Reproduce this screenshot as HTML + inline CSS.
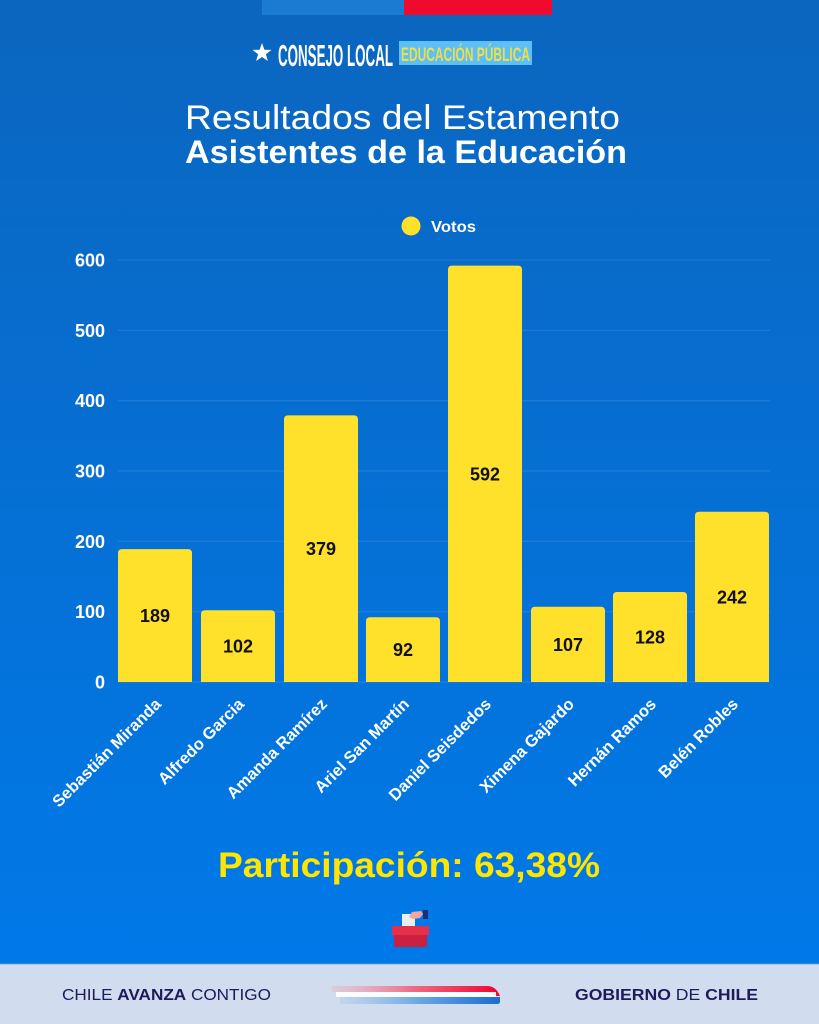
<!DOCTYPE html>
<html><head><meta charset="utf-8"><style>
html,body{margin:0;padding:0;width:819px;height:1024px;overflow:hidden;background:#0a6cc8}
svg{display:block}
text{font-family:"Liberation Sans",sans-serif}
</style></head><body>
<svg width="819" height="1024" viewBox="0 0 819 1024" xmlns="http://www.w3.org/2000/svg">
<defs>
<linearGradient id="bg" x1="0" y1="0" x2="0" y2="964" gradientUnits="userSpaceOnUse">
<stop offset="0" stop-color="#0B66BF"/><stop offset="1" stop-color="#0079E8"/>
</linearGradient>
<linearGradient id="rs" x1="332" y1="0" x2="495" y2="0" gradientUnits="userSpaceOnUse">
<stop offset="0" stop-color="#f3a5b5" stop-opacity="0.3"/><stop offset="0.5" stop-color="#ee6a84"/><stop offset="1" stop-color="#ef0a33"/>
</linearGradient>
<linearGradient id="bs" x1="340" y1="0" x2="499" y2="0" gradientUnits="userSpaceOnUse">
<stop offset="0" stop-color="#9cc3ec" stop-opacity="0.3"/><stop offset="0.5" stop-color="#6aa6e4"/><stop offset="1" stop-color="#1a6fd0"/>
</linearGradient>
</defs>
<rect x="0" y="0" width="819" height="1024" fill="url(#bg)"/>
<!-- top flag bars -->
<rect x="262" y="0" width="142" height="15" fill="#1a7bd1"/>
<rect x="404" y="0" width="148" height="15" fill="#ef0a2e"/>
<!-- header logo -->
<polygon points="262,43 264.4,49.7 271.5,49.9 265.9,54.2 267.9,61 262,57 256.1,61 258.1,54.2 252.5,49.9 259.6,49.7" fill="#fff"/>
<text x="278" y="66" font-size="31" font-weight="bold" fill="#fff" textLength="115" lengthAdjust="spacingAndGlyphs">CONSEJO LOCAL</text>
<rect x="399" y="41" width="133" height="24" fill="#5cbff6"/>
<text x="401" y="61" font-size="19" font-weight="bold" fill="#f0df45" textLength="129" lengthAdjust="spacingAndGlyphs">EDUCACIÓN PÚBLICA</text>
<!-- titles -->
<text x="185" y="129" font-size="34" fill="#fff" textLength="435" lengthAdjust="spacingAndGlyphs">Resultados del Estamento</text>
<text x="185" y="163" font-size="32" font-weight="bold" fill="#fff" textLength="442" lengthAdjust="spacingAndGlyphs">Asistentes de la Educación</text>
<!-- legend -->
<circle cx="411" cy="226" r="9.5" fill="#FFE12B"/>
<text x="431" y="232" font-size="16" font-weight="bold" fill="#fff" textLength="45" lengthAdjust="spacingAndGlyphs">Votos</text>
<!-- gridlines -->
<g stroke="#ffffff" stroke-opacity="0.12" stroke-width="1">
<line x1="118" y1="260" x2="770" y2="260"/>
<line x1="118" y1="330.3" x2="770" y2="330.3"/>
<line x1="118" y1="400.7" x2="770" y2="400.7"/>
<line x1="118" y1="471" x2="770" y2="471"/>
<line x1="118" y1="541.3" x2="770" y2="541.3"/>
<line x1="118" y1="611.7" x2="770" y2="611.7"/>
<line x1="118" y1="682" x2="770" y2="682"/>
</g>
<!-- y tick labels -->
<g font-size="18" font-weight="bold" fill="#fff" text-anchor="end">
<text x="105" y="266.5">600</text>
<text x="105" y="336.8">500</text>
<text x="105" y="407.2">400</text>
<text x="105" y="477.5">300</text>
<text x="105" y="547.8">200</text>
<text x="105" y="618.2">100</text>
<text x="105" y="688.5">0</text>
</g>
<!-- bars -->
<g fill="#FFE12B">
<path d="M118,682 V553.1 Q118,549.1 122,549.1 H188 Q192,549.1 192,553.1 V682 Z"/>
<path d="M201,682 V614.3 Q201,610.3 205,610.3 H271 Q275,610.3 275,614.3 V682 Z"/>
<path d="M284,682 V419.4 Q284,415.4 288,415.4 H354 Q358,415.4 358,419.4 V682 Z"/>
<path d="M366,682 V621.3 Q366,617.3 370,617.3 H436 Q440,617.3 440,621.3 V682 Z"/>
<path d="M448,682 V269.6 Q448,265.6 452,265.6 H518 Q522,265.6 522,269.6 V682 Z"/>
<path d="M531,682 V610.7 Q531,606.7 535,606.7 H601 Q605,606.7 605,610.7 V682 Z"/>
<path d="M613,682 V596 Q613,592 617,592 H683 Q687,592 687,596 V682 Z"/>
<path d="M695,682 V515.8 Q695,511.8 699,511.8 H765 Q769,511.8 769,515.8 V682 Z"/>
</g>
<!-- value labels -->
<g font-size="18" font-weight="bold" fill="#111" text-anchor="middle">
<text x="155" y="622">189</text>
<text x="238" y="652.5">102</text>
<text x="321" y="555.2">379</text>
<text x="403" y="656.1">92</text>
<text x="485" y="480.3">592</text>
<text x="568" y="650.8">107</text>
<text x="650" y="643.5">128</text>
<text x="732" y="603.4">242</text>
</g>
<!-- x labels -->
<g font-size="16.5" font-weight="bold" fill="#fff" text-anchor="end" dominant-baseline="middle">
<text transform="translate(159,702) rotate(-45)">Sebastián Miranda</text>
<text transform="translate(242,702) rotate(-45)">Alfredo Garcia</text>
<text transform="translate(325,702) rotate(-45)">Amanda Ramírez</text>
<text transform="translate(407,702) rotate(-45)">Ariel San Martín</text>
<text transform="translate(489,702) rotate(-45)">Daniel Seisdedos</text>
<text transform="translate(572,702) rotate(-45)">Ximena Gajardo</text>
<text transform="translate(654,702) rotate(-45)">Hernán Ramos</text>
<text transform="translate(736,702) rotate(-45)">Belén Robles</text>
</g>
<!-- participation -->
<text x="218" y="877" font-size="35" font-weight="bold" fill="#FFE600" textLength="382" lengthAdjust="spacingAndGlyphs">Participación: 63,38%</text>
<!-- ballot icon -->
<rect x="402" y="914" width="13" height="14" fill="#e8eef3"/>
<path d="M412,912 L421,911 L423,914 L420,918 L413,919 L409,917 Z" fill="#f2a6a0"/>
<rect x="423" y="910" width="5" height="9" fill="#1d2e7a"/>
<rect x="392" y="926" width="37" height="9" fill="#e4304b"/>
<rect x="394" y="935" width="33" height="12" fill="#c9213f"/>
<!-- footer -->
<rect x="0" y="964" width="819" height="60" fill="#D1DCEE"/>
<rect x="0" y="963" width="819" height="1.5" fill="#4a93e0" opacity="0.6"/>
<text x="62" y="1000" font-size="15.5" fill="#1E1B5A" textLength="209" lengthAdjust="spacingAndGlyphs"><tspan font-weight="normal">CHILE </tspan><tspan font-weight="bold">AVANZA</tspan><tspan font-weight="normal"> CONTIGO</tspan></text>
<text x="575" y="1000" font-size="15.5" fill="#1E1B5A" textLength="183" lengthAdjust="spacingAndGlyphs"><tspan font-weight="bold">GOBIERNO </tspan><tspan font-weight="normal">DE </tspan><tspan font-weight="bold">CHILE</tspan></text>
<!-- swoosh -->
<path d="M332,986 H487 Q496,986 500,996 H494 Q491,992 486,992 H332 Z" fill="url(#rs)"/>
<rect x="336" y="992" width="160" height="5" fill="#ffffff" opacity="0.9"/>
<path d="M340,997 H500 V1002 Q500,1004 497,1004 H340 Z" fill="url(#bs)"/>
</svg>
</body></html>
